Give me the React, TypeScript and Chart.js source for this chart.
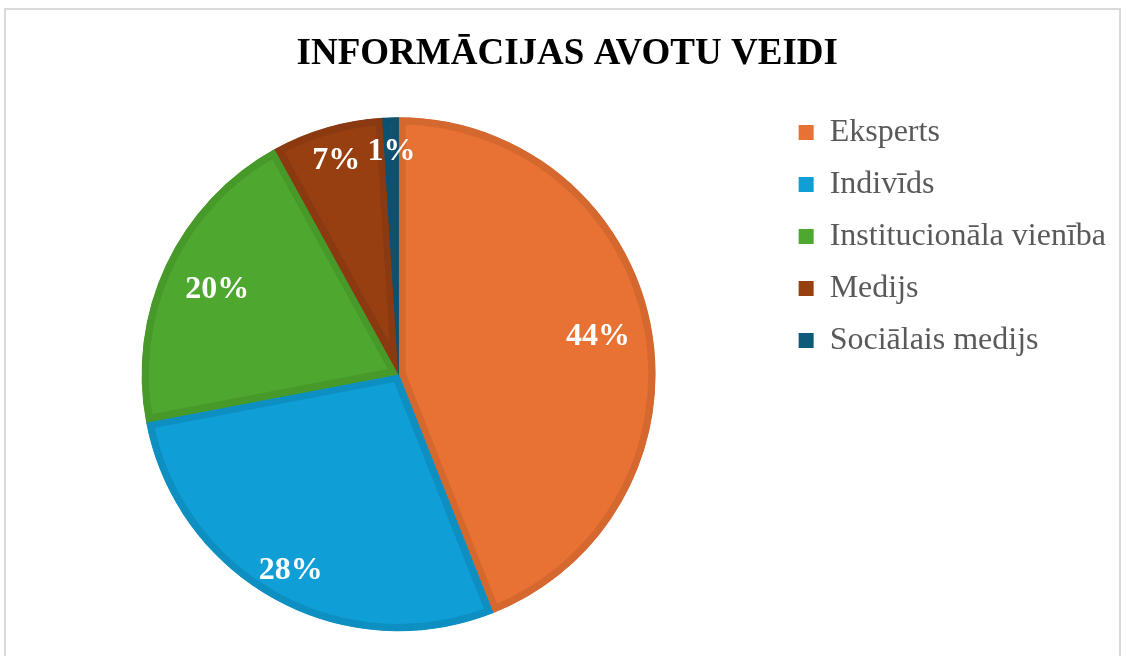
import React, { useEffect, useRef } from "react";
import { Chart, registerables } from "chart.js";

Chart.register(...registerables);

const TITLE = "INFORMĀCIJAS AVOTU VEIDI";
const categories = ["Eksperts", "Indivīds", "Institucionāla vienība", "Medijs", "Sociālais medijs"];
const values = [44, 28, 20, 7, 1];
const valueLabels = ["44%", "28%", "20%", "7%", "1%"];
const fillColors = ["#E87134", "#0F9ED5", "#4EA72E", "#983F12", "#0E5A7A"];
const borderColors = ["#D5682F", "#0D8FC2", "#47992A", "#8A3910", "#0D5170"];
const labelRadius = [0.79, 0.87, 0.78, 0.87, 0.87];

const SERIF = '"Liberation Serif", "Times New Roman", serif';

const dataLabelPlugin = {
  id: "dataLabels",
  afterDatasetsDraw(chart: any) {
    const ctx = chart.ctx;
    const meta = chart.getDatasetMeta(0);
    ctx.save();
    ctx.fillStyle = "#ffffff";
    ctx.font = `bold 32px ${SERIF}`;
    ctx.textAlign = "center";
    ctx.textBaseline = "middle";
    meta.data.forEach((arc: any, i: number) => {
      const p = arc.getProps(["x", "y", "startAngle", "endAngle", "outerRadius"], true);
      const mid = (p.startAngle + p.endAngle) / 2;
      const r = p.outerRadius * labelRadius[i];
      ctx.fillText(valueLabels[i], p.x + Math.cos(mid) * r, p.y + Math.sin(mid) * r + 1);
    });
    ctx.restore();
  },
};

export default function App() {
  const ref = useRef<HTMLCanvasElement>(null);
  useEffect(() => {
    if (!ref.current) return;
    const chart = new Chart(ref.current, {
      type: "pie",
      data: {
        labels: categories,
        datasets: [
          {
            data: values,
            backgroundColor: fillColors,
            borderColor: borderColors,
            borderWidth: 7,
            borderAlign: "inner",
            hoverOffset: 0,
            radius: 257,
          } as any,
        ],
      },
      options: {
        animation: false,
        responsive: false,
        layout: { padding: { left: 18.5, right: 10, top: 0, bottom: -8 } },
        plugins: {
          tooltip: { enabled: false },
          title: {
            display: true,
            text: TITLE,
            color: "#000000",
            font: { family: SERIF, size: 37, weight: "bold" },
            padding: { top: 32, bottom: 16 },
          },
          legend: {
            position: "right",
            align: "start",
            fullSize: false,
            title: {
              display: true,
              text: " ",
              font: { size: 2 },
              padding: { top: 0, bottom: 1.6 },
            },
            labels: {
              boxWidth: 15,
              boxHeight: 15,
              color: "#595959",
              font: { family: SERIF, size: 32 },
              padding: 20,
              generateLabels: () =>
                categories.map((text, i) => ({
                  text,
                  fillStyle: fillColors[i],
                  strokeStyle: fillColors[i],
                  lineWidth: 0,
                  hidden: false,
                  index: i,
                  fontColor: "#595959",
                })),
            },
          },
        },
      },
      plugins: [dataLabelPlugin],
    });
    return () => chart.destroy();
  }, []);
  return (
    <div style={{ position: "absolute", left: 0, top: 0, width: 1126, height: 656, background: "#fff" }}>
      <div
        style={{
          position: "absolute",
          left: 4,
          top: 8,
          width: 1117,
          height: 660,
          border: "2px solid #D9D9D9",
          boxSizing: "border-box",
        }}
      />
      <canvas ref={ref} width={1126} height={656} style={{ position: "absolute", left: 0, top: 0 }} />
    </div>
  );
}
